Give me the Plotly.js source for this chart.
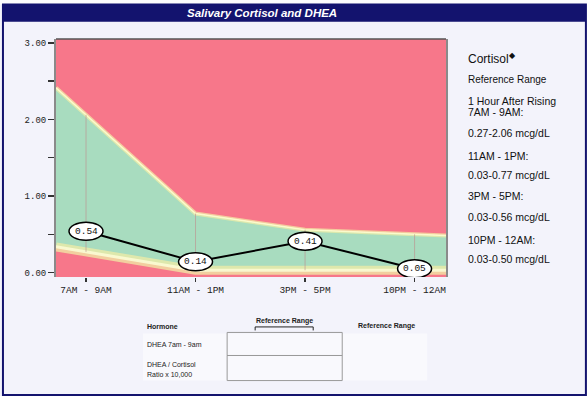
<!DOCTYPE html>
<html>
<head>
<meta charset="utf-8">
<script src="https://cdn.plot.ly/plotly-3.0.1.min.js"></script>
<style>html,body{margin:0;padding:0;background:#f3f3fb;}#chart{width:587px;height:396px;}</style>
</head>
<body>
<div id="chart"></div>
<script>
// ---- data ----
const timeLabels = ['7AM - 9AM', '11AM - 1PM', '3PM - 5PM', '10PM - 12AM'];
const cortisol = [0.54, 0.14, 0.41, 0.05];
const refUpper = [2.06, 0.77, 0.56, 0.50];
const refLower = [0.27, 0.03, 0.03, 0.03];
const refText = [
  ['1 Hour After Rising', '7AM - 9AM:', '0.27-2.06 mcg/dL'],
  ['11AM - 1PM:', '0.03-0.77 mcg/dL'],
  ['3PM - 5PM:', '0.03-0.56 mcg/dL'],
  ['10PM - 12AM:', '0.03-0.50 mcg/dL']
];

// ---- layout helpers (pixel -> paper) ----
const L = 56, R = 445.7, T = 39.3, B = 276.7;
const W = 587, H = 396;
const X = p => (p - L) / (R - L);
const Y = p => (B - p) / (B - T);
const xr = [-0.274, 3.287];
const yr = [-0.058, 3.05];

const idx = timeLabels.map((_, i) => i);
// extend band to axis edges by linear extrapolation of the first/last segment
function extend(arr) {
  const n = arr.length;
  const left = arr[0] + (xr[0] - 0) * (arr[1] - arr[0]);
  const right = arr[n - 1] + (xr[1] - (n - 1)) * (arr[n - 1] - arr[n - 2]);
  return [left].concat(arr, [right]);
}
const bandX = [xr[0]].concat(idx, [xr[1]]);
const upE = extend(refUpper);
const loE = extend(refLower);

const RED = '#f7778a', GREEN = '#a8dcbf', NAVY = '#13136e';

const traces = [
  {x: bandX, y: loE, mode: 'lines', line: {width: 0, color: GREEN}, hoverinfo: 'skip', showlegend: false},
  {x: bandX, y: upE, mode: 'lines', fill: 'tonexty', fillcolor: GREEN, line: {width: 0, color: GREEN}, hoverinfo: 'skip', showlegend: false},
  // soft edges
  {x: bandX, y: upE, mode: 'lines', line: {width: 4, color: 'rgba(242,238,165,0.7)'}, hoverinfo: 'skip', showlegend: false},
  {x: bandX, y: upE, mode: 'lines', line: {width: 1.5, color: 'rgba(252,252,205,0.95)'}, hoverinfo: 'skip', showlegend: false},
  {x: bandX, y: loE, mode: 'lines', line: {width: 9, color: 'rgba(240,236,165,0.75)'}, hoverinfo: 'skip', showlegend: false},
  {x: bandX, y: loE, mode: 'lines', line: {width: 3, color: 'rgba(250,250,210,0.95)'}, hoverinfo: 'skip', showlegend: false},
  // reference range vertical lines
  {x: idx.flatMap(i => [i, i, null]), y: idx.flatMap(i => [refUpper[i], refLower[i], null]), mode: 'lines',
   line: {width: 1, color: 'rgba(190,140,140,0.6)'}, hoverinfo: 'skip', showlegend: false},
  // cortisol line
  {x: idx, y: cortisol, mode: 'lines', line: {width: 2, color: '#000'}, hoverinfo: 'skip', showlegend: false}
];

const shapes = [];
const annotations = [];

// outer frame
shapes.push({type: 'rect', xref: 'paper', yref: 'paper', x0: X(0), x1: X(W), y0: Y(0), y1: Y(5), fillcolor: '#fbfbfd', line: {width: 0}, layer: 'below'});
shapes.push({type: 'rect', xref: 'paper', yref: 'paper', x0: X(3), x1: X(585.5), y0: Y(5), y1: Y(394.5), fillcolor: 'rgba(0,0,0,0)', line: {width: 2, color: NAVY}});
shapes.push({type: 'rect', xref: 'paper', yref: 'paper', x0: X(3), x1: X(585.5), y0: Y(5), y1: Y(22), fillcolor: NAVY, line: {width: 0}});
annotations.push({xref: 'paper', yref: 'paper', x: X(262), y: Y(13.5), xanchor: 'center', yanchor: 'middle', showarrow: false,
  text: '<b><i>Salivary Cortisol and DHEA</i></b>', font: {family: 'Liberation Sans, Arial', size: 11.5, color: '#ffffff'}});

// plot top border
shapes.push({type: 'line', xref: 'paper', yref: 'paper', x0: 0, x1: 1, y0: 1, y1: 1, line: {width: 1.5, color: '#555'}, layer: 'above'});

// ellipses & value labels
cortisol.forEach((v, i) => {
  shapes.push({type: 'circle', xref: 'x', yref: 'y', xsizemode: 'pixel', ysizemode: 'pixel', xanchor: i, yanchor: v,
    x0: -17, x1: 17, y0: -9, y1: 9, fillcolor: '#ffffff', line: {width: 1.5, color: '#000'}, layer: 'above'});
  annotations.push({x: i, y: v, xref: 'x', yref: 'y', text: v.toFixed(2), showarrow: false,
    font: {family: 'Liberation Mono, DejaVu Sans Mono, monospace', size: 9.5, color: '#111'}});
});

// right panel
const tf = {family: 'Liberation Sans, Arial', color: '#111'};
annotations.push({xref: 'paper', yref: 'paper', x: X(466), y: Y(58), xanchor: 'left', yanchor: 'middle', showarrow: false,
  text: 'Cortisol<sup>◆</sup>', font: Object.assign({size: 12}, tf)});
annotations.push({xref: 'paper', yref: 'paper', x: X(466), y: Y(80), xanchor: 'left', yanchor: 'middle', showarrow: false,
  text: 'Reference Range', font: Object.assign({size: 10}, tf)});
const lineY = [[101, 112, 133], [156.5, 175], [196, 217], [239.5, 259]];
refText.forEach((grp, g) => grp.forEach((t, k) => {
  annotations.push({xref: 'paper', yref: 'paper', x: X(466), y: Y(lineY[g][k]), xanchor: 'left', yanchor: 'middle', showarrow: false,
    text: t, font: Object.assign({size: 10.5}, tf)});
}));

// bottom table
shapes.push({type: 'rect', xref: 'paper', yref: 'paper', x0: X(143), x1: X(427), y0: Y(333), y1: Y(380), fillcolor: '#f9f9fd', line: {width: 0}});
shapes.push({type: 'rect', xref: 'paper', yref: 'paper', x0: X(227), x1: X(342), y0: Y(332), y1: Y(355), fillcolor: 'rgba(0,0,0,0)', line: {width: 1, color: '#9a9a9a'}});
shapes.push({type: 'rect', xref: 'paper', yref: 'paper', x0: X(227), x1: X(342), y0: Y(355), y1: Y(380), fillcolor: 'rgba(0,0,0,0)', line: {width: 1, color: '#9a9a9a'}});
shapes.push({type: 'path', xref: 'paper', yref: 'paper',
  path: `M ${X(255)} ${Y(330)} L ${X(255)} ${Y(326.5)} L ${X(313)} ${Y(326.5)} L ${X(313)} ${Y(330)}`,
  line: {width: 1, color: '#222'}});
const sf = {family: 'Liberation Sans, Arial', color: '#222', size: 7};
function txt(t, px, py, anchor) {
  annotations.push({xref: 'paper', yref: 'paper', x: X(px), y: Y(py), xanchor: anchor || 'left', yanchor: 'middle', showarrow: false, text: t, font: sf});
}
txt('<b>Hormone</b>', 145, 326);
txt('<b>Reference Range</b>', 284, 321, 'center');
txt('<b>Reference Range</b>', 356, 326);
txt('DHEA 7am - 9am', 145, 344.5);
txt('DHEA / Cortisol', 145, 363.5);
txt('Ratio x 10,000', 145, 373.5);

const layout = {
  width: W, height: H,
  margin: {l: L, r: W - R, t: T, b: H - B, pad: 0},
  paper_bgcolor: '#f3f3fb',
  plot_bgcolor: RED,
  showlegend: false,
  xaxis: {range: xr, tickvals: idx, ticktext: timeLabels, showgrid: false, zeroline: false, showline: false,
    ticks: 'outside', ticklen: 4, tickwidth: 1.5, tickcolor: '#333',
    tickfont: {family: 'Liberation Mono, DejaVu Sans Mono, monospace', size: 9.5, color: '#222'}},
  yaxis: {range: yr, tickmode: 'linear', tick0: 0, dtick: 1, tickformat: '.2f', showgrid: false, zeroline: false,
    showline: true, linecolor: '#8a8a8a', linewidth: 2, mirror: true,
    ticks: 'outside', ticklen: 6, tickwidth: 1.5, tickcolor: '#333',
    minor: {tick0: 0, dtick: 0.5, ticks: 'outside', ticklen: 6, tickwidth: 1.5, tickcolor: '#333', showgrid: false},
    tickfont: {family: 'Liberation Mono, DejaVu Sans Mono, monospace', size: 9, color: '#222'}},
  shapes: shapes,
  annotations: annotations
};

Plotly.newPlot('chart', traces, layout, {staticPlot: true, displayModeBar: false});
</script>
</body>
</html>
